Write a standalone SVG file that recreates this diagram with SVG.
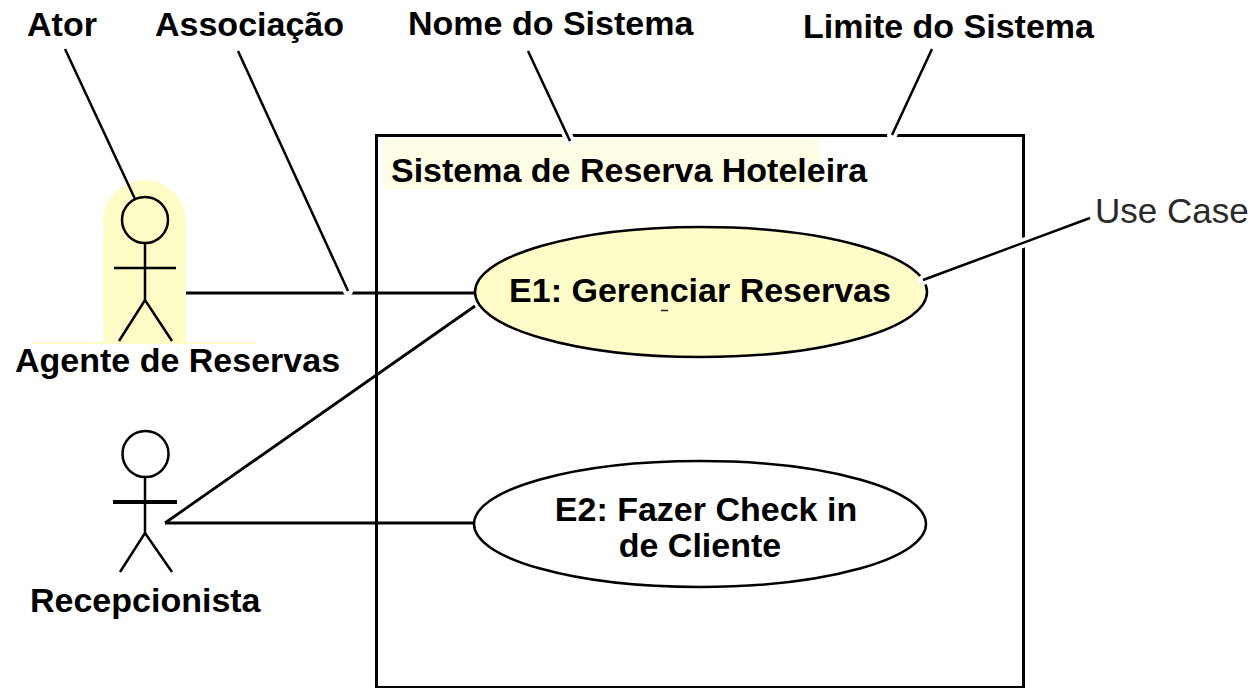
<svg xmlns="http://www.w3.org/2000/svg" width="1255" height="688" viewBox="0 0 1255 688">
  <style>
    .lbl { font-family: "Liberation Sans", Arial, sans-serif; font-weight: bold; font-size: 34px; fill: #000; }
    .uc { font-family: "Liberation Sans", Arial, sans-serif; font-weight: normal; font-size: 35px; fill: #2a2a2a; }
    .stk { fill: none; stroke: #000; stroke-width: 2.5; }
    .assoc { fill: none; stroke: #000; stroke-width: 2.8; }
    .halo { fill: none; stroke: #fff; stroke-width: 10; stroke-linecap: round; }
    .leader { fill: none; stroke: #000; stroke-width: 2.5; }
  </style>
  <rect x="0" y="0" width="1255" height="688" fill="#fff"/>

  <g id="system-boundary">
    <rect x="376.5" y="135.5" width="647" height="552" fill="none" stroke="#000" stroke-width="3"/>
    <rect x="383" y="139" width="437" height="50" fill="#fffde6"/>
    <text class="lbl" x="391" y="182">Sistema de Reserva Hoteleira</text>
  </g>

  <g id="connectors">
    <line class="assoc" x1="163" y1="293" x2="475" y2="293"/>
    <line class="assoc" x1="165" y1="523" x2="475" y2="306"/>
    <line class="assoc" x1="165" y1="523" x2="473" y2="523"/>
  </g>

  <g id="uc-e1">
    <ellipse cx="701" cy="292" rx="226" ry="65" fill="#fefcc8" stroke="#000" stroke-width="2.5"/>
    <text class="lbl" x="700" y="302" text-anchor="middle">E1: Gerenciar Reservas</text>
    <line x1="661" y1="310.5" x2="668" y2="310.5" stroke="#222" stroke-width="1.5"/>
  </g>

  <g id="uc-e2">
    <ellipse cx="700" cy="524" rx="226" ry="63" fill="#fff" stroke="#000" stroke-width="2.5"/>
    <text class="lbl" x="706" y="521" text-anchor="middle">E2: Fazer Check in</text>
    <text class="lbl" x="700" y="557" text-anchor="middle">de Cliente</text>
  </g>

  <g id="actor-agente">
    <path d="M103,343 V221.5 A41.5,41.5 0 0 1 186,221.5 V343 Z" fill="#fdfcc6"/>
    <line x1="33" y1="343" x2="255" y2="343" stroke="#fdfcc6" stroke-width="2"/>
    <circle class="stk" cx="145" cy="220" r="23"/>
    <line class="stk" x1="145" y1="243" x2="145" y2="300"/>
    <line class="stk" x1="114" y1="268" x2="176" y2="268"/>
    <polyline class="stk" points="119,341 145,300 172,341"/>
    <text class="lbl" x="15" y="372">Agente de Reservas</text>
  </g>

  <g id="actor-recepcionista">
    <circle class="stk" cx="145.5" cy="454" r="23"/>
    <line class="stk" x1="145" y1="477" x2="145" y2="533"/>
    <line x1="113" y1="502" x2="177" y2="502" stroke="#000" stroke-width="4"/>
    <polyline class="stk" points="120,572 145,533 172,572"/>
    <text class="lbl" x="30" y="612">Recepcionista</text>
  </g>

  <g id="annotations">
    <line class="halo" x1="238" y1="51" x2="348" y2="291"/>
    <line class="halo" x1="528" y1="51" x2="570" y2="141"/>
    <line class="halo" x1="932" y1="49" x2="892" y2="135"/>
    <line class="halo" x1="1090" y1="218" x2="923" y2="280"/>
    <line class="leader" x1="65" y1="49" x2="135" y2="199"/>
    <line class="leader" x1="238" y1="51" x2="348" y2="291"/>
    <line class="leader" x1="528" y1="51" x2="570" y2="141"/>
    <line class="leader" x1="932" y1="49" x2="892" y2="135"/>
    <line class="leader" x1="1090" y1="218" x2="923" y2="280"/>
    <text class="lbl" x="27" y="36">Ator</text>
    <text class="lbl" x="155" y="36">Associação</text>
    <text class="lbl" x="408" y="35">Nome do Sistema</text>
    <text class="lbl" x="803" y="38">Limite do Sistema</text>
    <text class="uc" x="1095" y="223">Use Case</text>
  </g>
</svg>
